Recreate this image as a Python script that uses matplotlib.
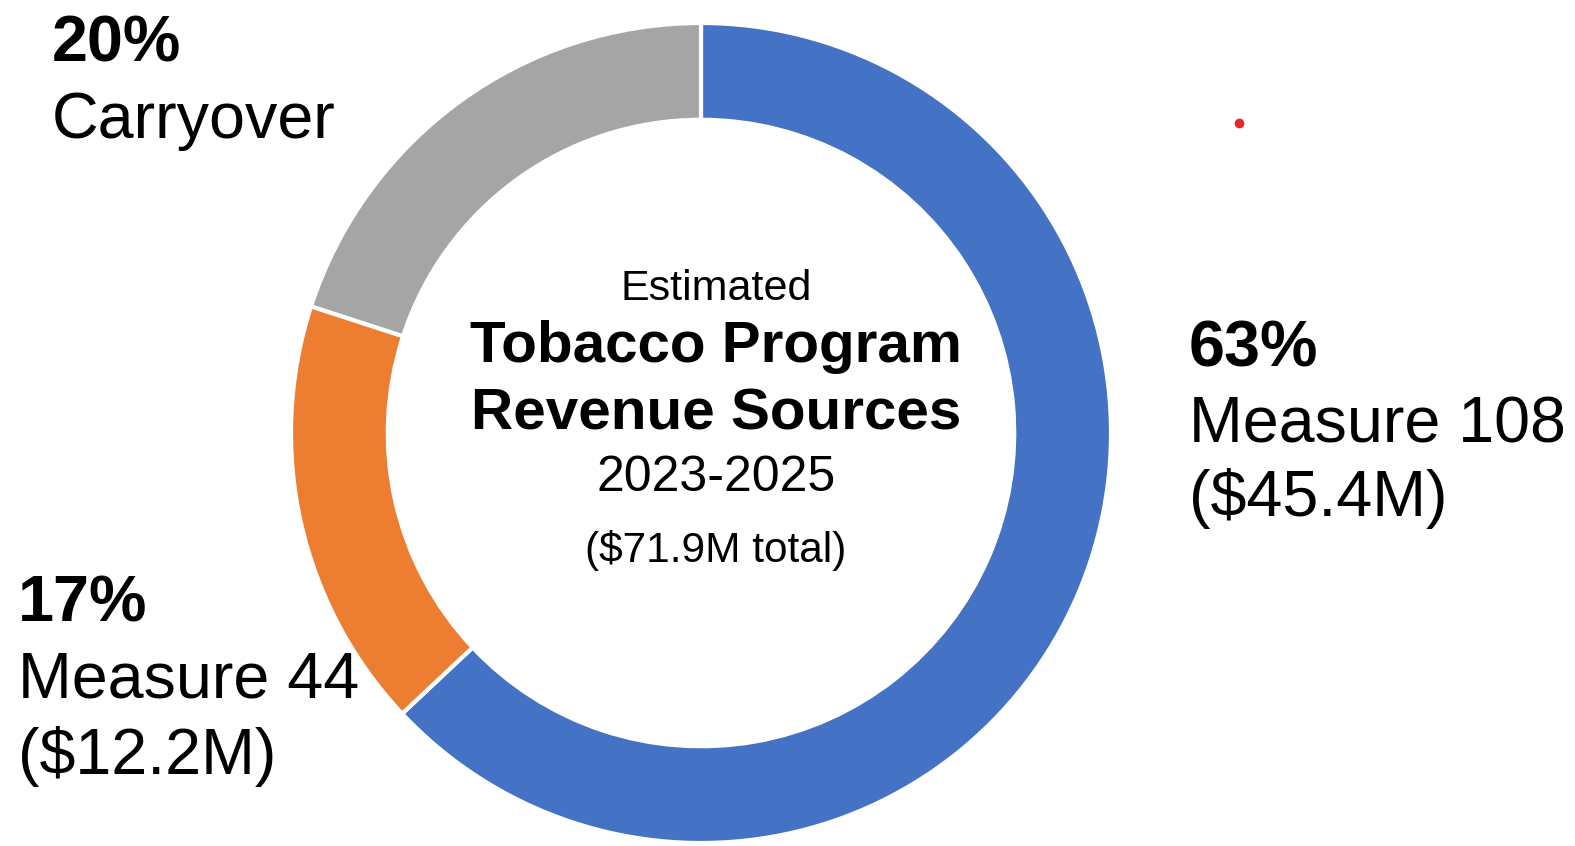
import matplotlib
matplotlib.use("Agg")
import matplotlib.pyplot as plt
from matplotlib.lines import Line2D

plt.rcParams['font.family'] = ['Liberation Sans', 'DejaVu Sans']

# Data
categories = ["Measure 108", "Measure 44", "Carryover"]
shares = [63, 17, 20]
amounts = ["($45.4M)", "($12.2M)", None]
colors = ["#4472C4", "#ED7D31", "#A5A5A5"]
title_lines = ["Estimated", "Tobacco Program", "Revenue Sources", "2023-2025", "($71.9M total)"]

W, H = 1575, 846
fig = plt.figure(figsize=(W / 100, H / 100), dpi=100)

cx, cy, R = 701, 433, 410
ax = fig.add_axes([(cx - R) / W, (H - cy - R) / H, 2 * R / W, 2 * R / H])
ax.pie(shares, colors=colors, startangle=90, counterclock=False,
       radius=1.0, wedgeprops=dict(width=0.236, edgecolor="white", linewidth=3))
ax.set_xlim(-1, 1)
ax.set_ylim(-1, 1)
ax.set_aspect('equal')
ax.axis('off')


def ftext(x, y, s, **kw):
    fig.text(x / W, 1 - y / H, s, va='baseline', color='black', **kw)


# Center title
tx = 716
ftext(tx, 300, title_lines[0], ha='center', fontsize=31)
ftext(tx, 362, title_lines[1], ha='center', fontsize=42, fontweight='bold')
ftext(tx, 429, title_lines[2], ha='center', fontsize=42, fontweight='bold')
ftext(tx, 491, title_lines[3], ha='center', fontsize=36)
ftext(tx, 562, title_lines[4], ha='center', fontsize=30.5)

# Labels
fs = 46.5
# Measure 108 (right)
ftext(1189, 366, f"{shares[0]}%", ha='left', fontsize=fs, fontweight='bold')
ftext(1189, 442, categories[0], ha='left', fontsize=fs)
ftext(1189, 516, amounts[0], ha='left', fontsize=fs)
# Measure 44 (bottom left)
ftext(18, 622, f"{shares[1]}%", ha='left', fontsize=fs, fontweight='bold')
ftext(18, 698, categories[1], ha='left', fontsize=fs)
ftext(18, 774, amounts[1], ha='left', fontsize=fs)
# Carryover (top left)
ftext(52, 62, f"{shares[2]}%", ha='left', fontsize=fs, fontweight='bold')
ftext(52, 138, categories[2], ha='left', fontsize=fs)

# small red dot artifact
fig.add_artist(Line2D([1239 / W], [1 - 123 / H], marker='o', markersize=6,
                      color='#E8262A', linestyle='none', transform=fig.transFigure))

fig.savefig("out.png", dpi=100, facecolor='white')
